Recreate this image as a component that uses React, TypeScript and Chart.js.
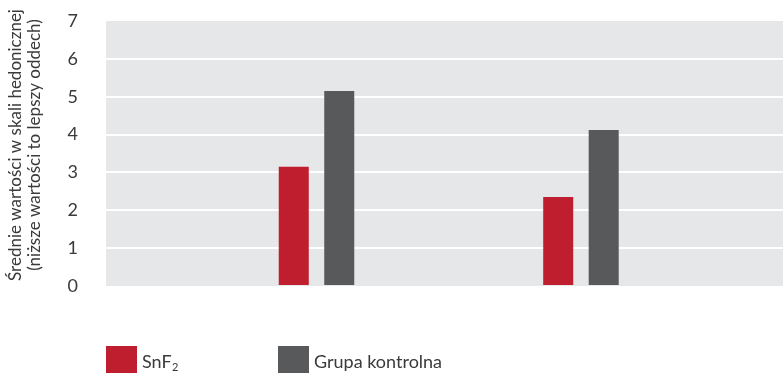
import React, { useEffect, useRef } from 'react';
import { Chart, registerables } from 'chart.js';

Chart.register(...registerables);

// Two measurement groups (no axis labels are shown under the bars)
const categories = ['', ''];
const snf2Values = [3.15, 2.35];
const controlValues = [5.15, 4.12];
const seriesNames = ['SnF₂', 'Grupa kontrolna'];
const yTickValues = [0, 1, 2, 3, 4, 5, 6, 7];
const yAxisTitle = ['Średnie wartości w skali hedonicznej', '(niższe wartości to lepszy oddech)'];

const RED = '#be1e2d';
const DARK = '#58595b';
const PLOT_BG = '#e6e7e8';
const TEXT = '#3a3a3b';
const FONT = 'Lato, "Open Sans", sans-serif';

const SUBSCRIPTS = '₀₁₂₃₄₅₆₇₈₉';

// Grey panel behind the plotting area
const plotBackground = {
  id: 'plotBackground',
  beforeDraw(chart: any) {
    const { ctx, chartArea } = chart;
    ctx.save();
    ctx.fillStyle = PLOT_BG;
    ctx.fillRect(chartArea.left, chartArea.top, chartArea.right - chartArea.left, chartArea.bottom - chartArea.top);
    ctx.restore();
  },
};

// Rotated two-line axis caption on the far left
const axisCaption = {
  id: 'axisCaption',
  afterDraw(chart: any) {
    const { ctx } = chart;
    const centerY = 145;
    const baselines = [21, 40];
    ctx.save();
    ctx.fillStyle = TEXT;
    ctx.font = `17px ${FONT}`;
    ctx.textAlign = 'center';
    ctx.textBaseline = 'alphabetic';
    yAxisTitle.forEach((line, i) => {
      ctx.save();
      ctx.translate(baselines[i], centerY);
      ctx.rotate(-Math.PI / 2);
      ctx.fillText(line, 0, 0);
      ctx.restore();
    });
    ctx.restore();
  },
};

// Legend row under the chart: square swatch + label, subscripts drawn small and lowered
const bottomLegend = {
  id: 'bottomLegend',
  afterDraw(chart: any) {
    const { ctx, chartArea } = chart;
    const box = 31;
    const top = 346;
    const baseline = 367.5;
    const step = 172;
    ctx.save();
    chart.data.datasets.forEach((ds: any, i: number) => {
      const x = chartArea.left + i * step;
      ctx.fillStyle = ds.backgroundColor;
      ctx.fillRect(x, top, box, box);
      ctx.fillStyle = TEXT;
      ctx.textBaseline = 'alphabetic';
      ctx.textAlign = 'left';
      let tx = x + box + 5;
      let main = '';
      let sub = '';
      for (const ch of ds.label as string) {
        const k = SUBSCRIPTS.indexOf(ch);
        if (k >= 0) sub += String(k);
        else main += ch;
      }
      ctx.font = `18px ${FONT}`;
      ctx.fillText(main, tx, baseline);
      tx += ctx.measureText(main).width + 0.5;
      if (sub) {
        ctx.font = `11px ${FONT}`;
        ctx.fillText(sub, tx, baseline + 3);
      }
    });
    ctx.restore();
  },
};

export default function App() {
  const canvasRef = useRef<HTMLCanvasElement | null>(null);

  useEffect(() => {
    document.body.style.margin = '0';
    const canvas = canvasRef.current;
    if (!canvas) return;

    const toPoints = (vals: number[]) => categories.map((_, i) => ({ x: i, y: vals[i] }));

    const chart = new Chart(canvas, {
      type: 'bar',
      data: {
        datasets: [
          { label: seriesNames[0], data: toPoints(snf2Values), backgroundColor: RED },
          { label: seriesNames[1], data: toPoints(controlValues), backgroundColor: DARK },
        ],
      },
      options: {
        responsive: false,
        animation: false,
        devicePixelRatio: 1,
        layout: { padding: { top: 21, bottom: 87, left: 0, right: 0 } },
        datasets: {
          bar: {
            categoryPercentage: 0.344,
            barPercentage: 0.66,
          },
        },
        plugins: {
          legend: { display: false },
          tooltip: { enabled: false },
        },
        scales: {
          x: {
            type: 'linear',
            display: false,
            offset: false,
            min: -0.796,
            max: 1.764,
            afterBuildTicks: (scale: any) => {
              scale.ticks = [{ value: scale.min }, { value: scale.max }];
            },
            grid: { display: false, offset: false },
          },
          y: {
            min: 0,
            max: 7,
            afterFit: (scale: any) => {
              scale.width = 106;
              scale.paddingTop = 0;
              scale.paddingBottom = 0;
            },
            afterBuildTicks: (scale: any) => {
              scale.ticks = yTickValues.map((v) => ({ value: v }));
            },
            border: { display: false },
            grid: {
              drawTicks: false,
              lineWidth: 2,
              color: (c: any) =>
                c.tick && (c.tick.value === 0 || c.tick.value === 7) ? 'rgba(0,0,0,0)' : '#ffffff',
            },
            ticks: {
              padding: 28,
              color: TEXT,
              font: { family: FONT, size: 18 },
            },
          },
        },
      },
      plugins: [plotBackground, axisCaption, bottomLegend],
    } as any);

    return () => chart.destroy();
  }, []);

  return (
    <div style={{ width: 783, height: 373 }}>
      <canvas ref={canvasRef} width={783} height={373} />
    </div>
  );
}
